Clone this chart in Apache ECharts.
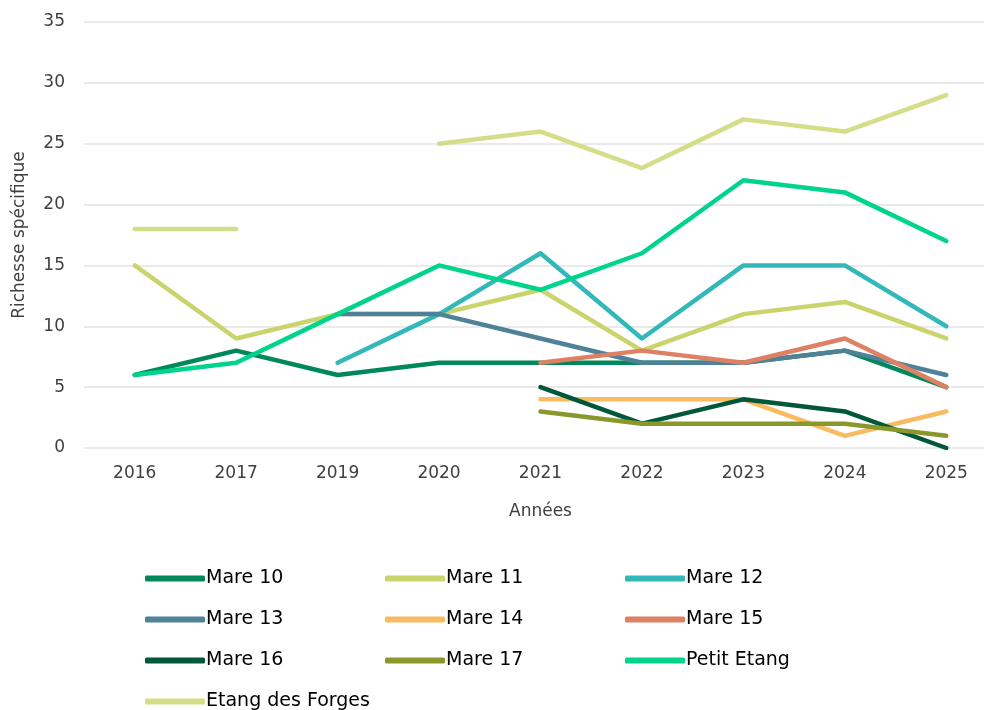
<!DOCTYPE html>
<html><head><meta charset="utf-8">
<script src="https://cdn.jsdelivr.net/npm/echarts@6/dist/echarts.min.js"></script>
<style>html,body{margin:0;padding:0;background:#fff}#c{width:984px;height:710px}</style>
</head><body><div id="c"></div>
<script>
const years = ['2016','2017','2019','2020','2021','2022','2023','2024','2025'];
const mare10 = [6, 8, 6, 7, 7, 7, 7, 8, 5];
const mare11 = [15, 9, 11, 11, 13, 8, 11, 12, 9];
const mare12 = [null, null, 7, 11, 16, 9, 15, 15, 10];
const mare13 = [null, null, 11, 11, 9, 7, 7, 8, 6];
const mare14 = [null, null, null, null, 4, 4, 4, 1, 3];
const mare15 = [null, null, null, null, 7, 8, 7, 9, 5];
const mare16 = [null, null, null, null, 5, 2, 4, 3, 0];
const mare17 = [null, null, null, null, 3, 2, 2, 2, 1];
const petitEtang = [6, 7, 11, 15, 13, 16, 22, 21, 17];
const etangForges = [18, 18, null, 25, 26, 23, 27, 26, 29];
const yTicks = [0, 5, 10, 15, 20, 25, 30, 35];

const seriesDefs = [
  ['Mare 10', mare10, '#00875A'],
  ['Mare 11', mare11, '#C9D46C'],
  ['Mare 12', mare12, '#33B8BA'],
  ['Mare 13', mare13, '#4F8199'],
  ['Mare 14', mare14, '#F9BB62'],
  ['Mare 15', mare15, '#DE8064'],
  ['Mare 16', mare16, '#00573A'],
  ['Mare 17', mare17, '#8A982B'],
  ['Petit Etang', petitEtang, '#00D48A'],
  ['Etang des Forges', etangForges, '#D4DD87']
];
const FONT = 'DejaVu Sans';
const textColor = '#404040';
const chart = echarts.init(document.getElementById('c'), null, {renderer: 'canvas'});
chart.setOption({
  animation: false,
  backgroundColor: '#fff',
  grid: { left: 84, width: 913, top: 22, height: 426, outerBoundsMode: 'none', containLabel: false },
  legend: {
    orient: 'horizontal', left: 145, top: 558, width: 740, itemGap: 0, padding: 0,
    itemWidth: 60, itemHeight: 6, icon: 'roundRect',
    data: seriesDefs.map(d => d[0]),
    textStyle: { fontFamily: FONT, fontSize: 19, color: '#000', width: 179, lineHeight: 41,
      overflow: 'none', padding: [0,0,0,-4] }
  },
  xAxis: {
    type: 'category', data: years, boundaryGap: true,
    name: 'Années', nameLocation: 'middle', nameGap: 55,
    nameTextStyle: { fontFamily: FONT, fontSize: 17, color: textColor },
    axisLine: { show: false }, axisTick: { show: false },
    axisLabel: { fontFamily: FONT, fontSize: 17, color: textColor, margin: 17 }
  },
  yAxis: {
    type: 'value', min: 0, max: 35, interval: 5,
    name: 'Richesse spécifique', nameLocation: 'middle', nameGap: 56,
    nameTextStyle: { fontFamily: FONT, fontSize: 17, color: textColor },
    axisLine: { show: false }, axisTick: { show: false },
    axisLabel: { fontFamily: FONT, fontSize: 17, color: textColor, margin: 19,
      formatter: v => yTicks.includes(v) ? String(v) : '' },
    splitLine: { lineStyle: { color: '#E3E3E3', width: 1.5 } }
  },
  series: seriesDefs.map(([name, data, color]) => ({
    name, type: 'line', data, connectNulls: false,
    showSymbol: false, symbol: 'none',
    itemStyle: { color },
    lineStyle: { color, width: 4.5, cap: 'round', join: 'round' }
  }))
});
</script></body></html>
